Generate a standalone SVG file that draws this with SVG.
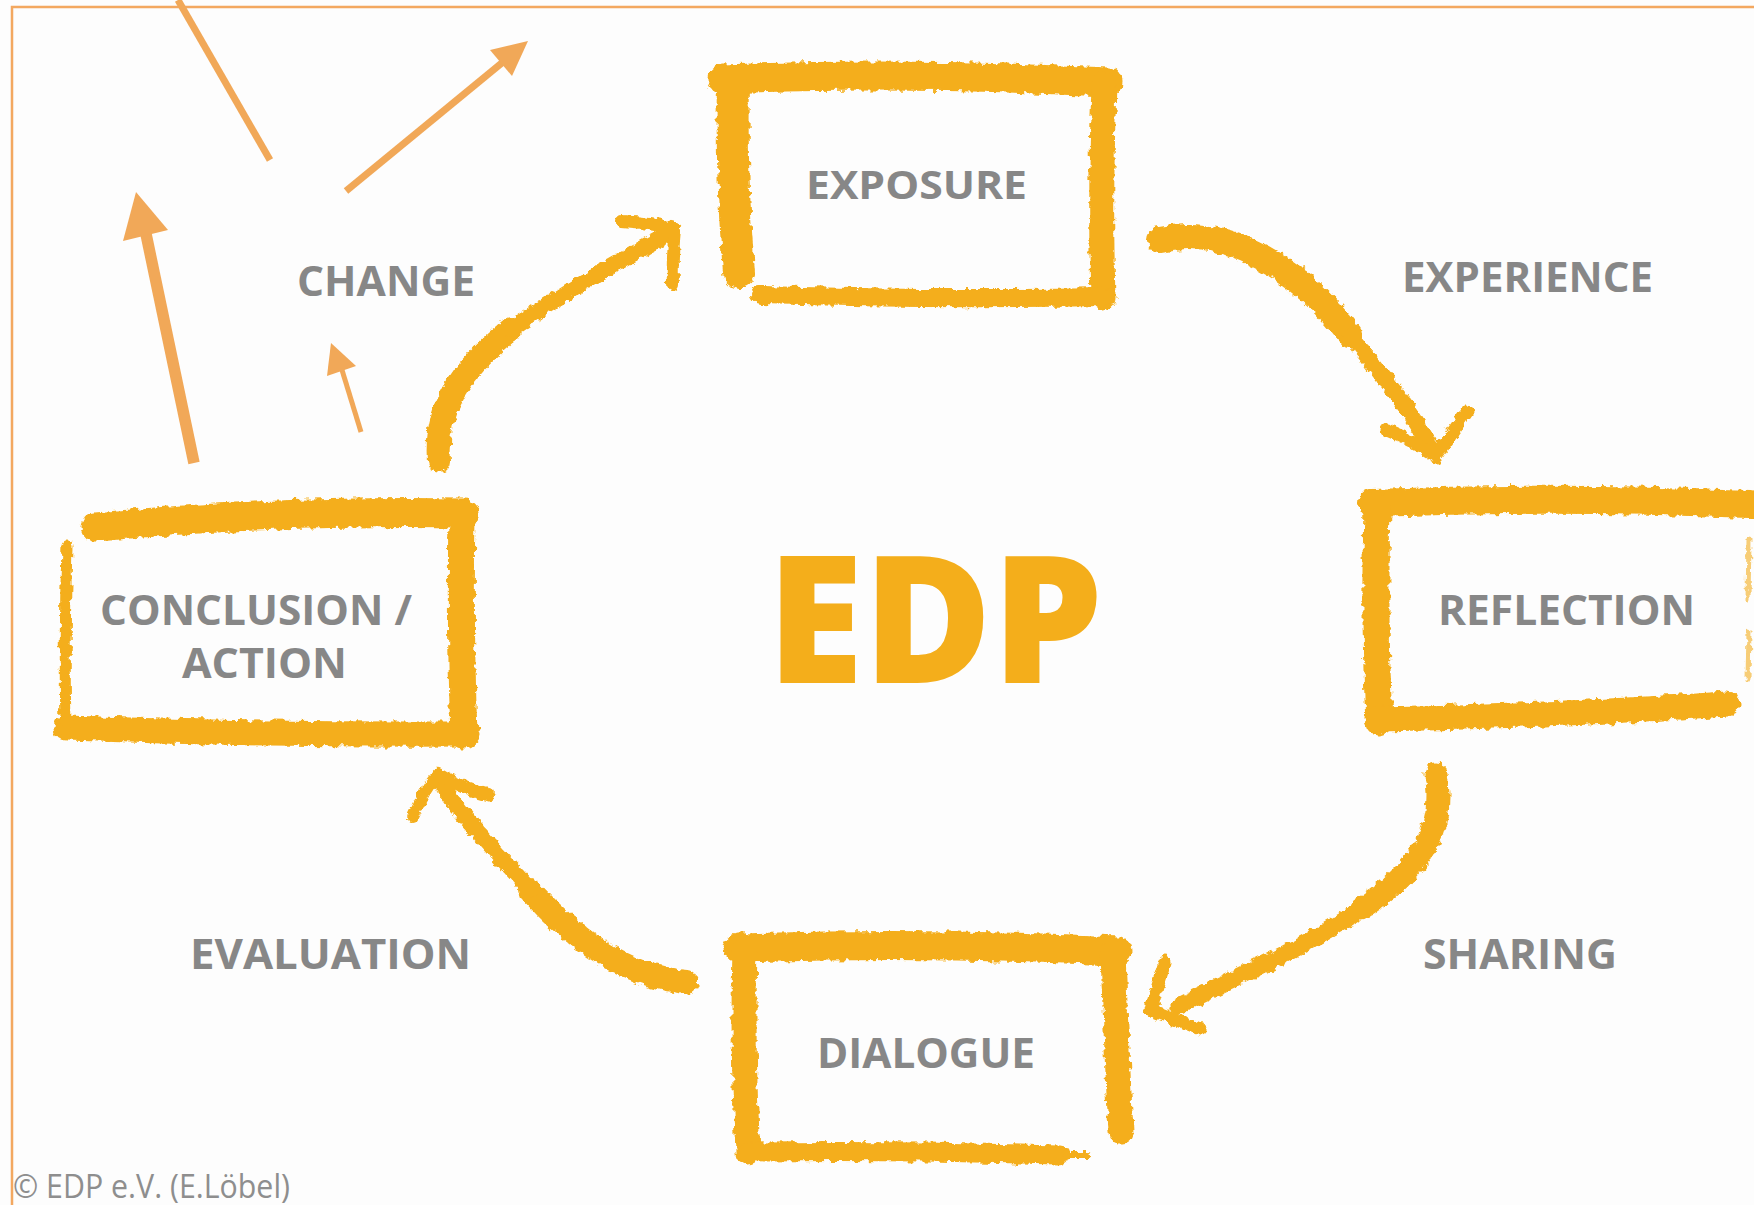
<svg xmlns="http://www.w3.org/2000/svg" width="1754" height="1205" viewBox="0 0 1754 1205">
<defs>
<filter id="rough" filterUnits="userSpaceOnUse" x="0" y="0" width="1754" height="1205">
<feTurbulence type="fractalNoise" baseFrequency="0.13" numOctaves="3" seed="7" result="n"/>
<feDisplacementMap in="SourceGraphic" in2="n" scale="8" xChannelSelector="R" yChannelSelector="G"/>
</filter>
<style>
.brush{fill:none;stroke:#F4AE1B;stroke-linecap:round;stroke-linejoin:round}
.box{filter:url(#rough)}
.lbl{font-family:"Open Sans","Noto Sans","Liberation Sans",sans-serif;font-weight:700;fill:#878787}
.sline{stroke:#F1A858;fill:none}
.shead{fill:#F1A858}
</style>
</defs>
<rect x="0" y="0" width="1754" height="1205" fill="#FDFDFD"/>
<polyline points="12,1205 12,7 1754,7" fill="none" stroke="#F3A860" stroke-width="2.5"/>

<g id="node-exposure">
<g class="box">
<path class="brush" d="M722 79 Q900 72 1108 82" stroke-width="29"/>
<path class="brush" d="M733 82 Q731 180 739 272" stroke-width="32"/>
<path class="brush" d="M1104 84 Q1100 200 1103 298" stroke-width="25"/>
<path class="brush" d="M760 295 Q930 300 1104 297" stroke-width="18"/>
</g>
<text class="lbl" x="806" y="199" font-size="40" textLength="221" lengthAdjust="spacingAndGlyphs">EXPOSURE</text>
</g>

<g id="node-reflection">
<g class="box">
<path class="brush" d="M1372 503 Q1560 496 1750 504" stroke-width="28"/>
<path class="brush" d="M1377 506 Q1374 620 1379 722" stroke-width="27"/>
<path class="brush" d="M1377 719 Q1550 716 1727 704" stroke-width="25"/>
<path class="brush" d="M1749 540 L1748 600 M1749 630 L1748 680" stroke-width="5" opacity="0.6"/>
</g>
<text class="lbl" x="1438" y="625" font-size="42" textLength="257" lengthAdjust="spacingAndGlyphs">REFLECTION</text>
</g>

<g id="node-dialogue">
<g class="box">
<path class="brush" d="M738 948 Q930 942 1118 951" stroke-width="29"/>
<path class="brush" d="M745 950 Q742 1050 748 1152" stroke-width="25"/>
<path class="brush" d="M1113 952 Q1116 1040 1121 1132" stroke-width="25"/>
<path class="brush" d="M748 1152 Q900 1150 1060 1155" stroke-width="19"/>
<path class="brush" d="M1065 1155 L1088 1155" stroke-width="6"/>
</g>
<text class="lbl" x="817" y="1068" font-size="42" textLength="218" lengthAdjust="spacingAndGlyphs">DIALOGUE</text>
</g>

<g id="node-conclusion">
<g class="box">
<path class="brush" d="M96 527 Q280 510 465 513" stroke-width="29"/>
<path class="brush" d="M462 514 Q460 630 464 735" stroke-width="27"/>
<path class="brush" d="M66 728 Q260 735 468 734" stroke-width="25"/>
<path class="brush" d="M67 545 Q64 640 66 728" stroke-width="11"/>
</g>
<text class="lbl" x="100" y="625" font-size="42" textLength="312" lengthAdjust="spacingAndGlyphs">CONCLUSION /</text>
<text class="lbl" x="182" y="678" font-size="42" textLength="165" lengthAdjust="spacingAndGlyphs">ACTION</text>
</g>

<g id="node-edp">
<text x="767" y="683" font-family="'Open Sans','Noto Sans','Liberation Sans',sans-serif" font-weight="800" font-size="178" fill="#F4AE1B" textLength="336" lengthAdjust="spacingAndGlyphs">EDP</text>
</g>

<g id="connectors">
<g class="box">
<!-- Exposure -> Reflection -->
<path class="brush" d="M1160 240 C1230 225 1300 270 1350 335" stroke-width="26"/>
<path class="brush" d="M1350 335 C1390 385 1418 420 1432 450" stroke-width="16"/>
<path class="brush" d="M1387 430 Q1412 440 1436 456 L1467 412" stroke-width="13"/>
<!-- Reflection -> Dialogue -->
<path class="brush" d="M1436 774 C1446 830 1420 870 1360 910" stroke-width="23"/>
<path class="brush" d="M1360 910 C1300 950 1230 980 1178 1006" stroke-width="17"/>
<path class="brush" d="M1165 962 Q1156 990 1151 1010 L1200 1029" stroke-width="13"/>
<!-- Dialogue -> Conclusion -->
<path class="brush" d="M686 982 C620 975 570 935 530 890" stroke-width="24"/>
<path class="brush" d="M530 890 C495 850 460 815 442 784" stroke-width="16"/>
<path class="brush" d="M413 817 Q425 790 438 774 Q465 790 490 796" stroke-width="12"/>
<!-- Conclusion -> Exposure -->
<path class="brush" d="M439 460 C435 410 460 370 510 330" stroke-width="24"/>
<path class="brush" d="M510 330 C560 295 620 260 662 238" stroke-width="16"/>
<path class="brush" d="M622 221 Q650 223 675 229 Q672 258 673 285" stroke-width="12"/>
</g>
<!-- change arrows -->
<line class="sline" x1="178" y1="0" x2="270" y2="160" stroke-width="7"/>
<line class="sline" x1="346" y1="191" x2="503" y2="62" stroke-width="7"/>
<polygon class="shead" points="528,41 490,50 512,76"/>
<line class="sline" x1="194" y1="463" x2="146" y2="234" stroke-width="11.5"/>
<polygon class="shead" points="136,192 123,241 168,230"/>
<line class="sline" x1="361" y1="432" x2="342" y2="370" stroke-width="5"/>
<polygon class="shead" points="331,343 327,376 356,366"/>
<text class="lbl" x="1402" y="292" font-size="42" textLength="251" lengthAdjust="spacingAndGlyphs">EXPERIENCE</text>
<text class="lbl" x="1423" y="969" font-size="42" textLength="194" lengthAdjust="spacingAndGlyphs">SHARING</text>
<text class="lbl" x="190" y="969" font-size="42" textLength="281" lengthAdjust="spacingAndGlyphs">EVALUATION</text>
<text class="lbl" x="297" y="296" font-size="42" textLength="178" lengthAdjust="spacingAndGlyphs">CHANGE</text>
</g>

<text x="13" y="1198" font-family="'Open Sans','Noto Sans','Liberation Sans',sans-serif" font-size="32" fill="#8E8E8E" textLength="277" lengthAdjust="spacingAndGlyphs">© EDP e.V. (E.Löbel)</text>
</svg>
